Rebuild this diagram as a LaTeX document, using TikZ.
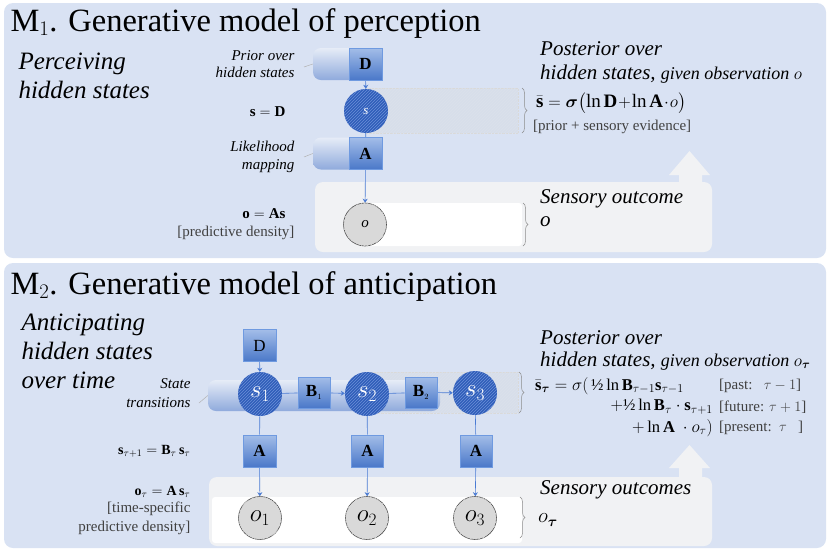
\documentclass[tikz,border=0pt]{standalone}
\usepackage{amsmath}
\usepackage{fontspec}
\setmainfont{Liberation Serif}
\usetikzlibrary{patterns,decorations.pathreplacing,arrows.meta,calc}
\newcommand\fsz[2]{\fontsize{#1}{#2}\selectfont}
\definecolor{panelbg}{HTML}{D9E2F3}
\definecolor{pilltop}{HTML}{E6ECF7}
\definecolor{pillbot}{HTML}{8FAADC}
\definecolor{sqtop}{HTML}{A3BDE8}
\definecolor{sqbot}{HTML}{4A78C9}
\definecolor{sqborder}{HTML}{6F9AE0}
\definecolor{sfill}{HTML}{2F5DB9}
\definecolor{shatch}{HTML}{6C90D8}
\definecolor{ofill}{HTML}{D9D9D9}
\definecolor{outgrey}{HTML}{F1F2F4}
\definecolor{linkblue}{HTML}{4A7BD3}
\definecolor{bracegrey}{HTML}{8C8C8C}
\definecolor{txtgrey}{HTML}{404040}
\definecolor{hatchbg}{HTML}{D7DEEA}
\pgfdeclarelayer{bottom}
\pgfdeclarelayer{mid}
\pgfsetlayers{bottom,mid,main}
\begin{document}
\begin{tikzpicture}[x=1pt,y=-1pt,
  panel/.style={fill=panelbg, rounded corners=9pt},
  outbox/.style={fill=outgrey, rounded corners=8pt},
  whitebox/.style={fill=white, rounded corners=3pt},
  hatchzone/.style={fill=hatchbg, draw=gray!30, densely dotted, line width=0.4pt, postaction={pattern=north east lines, pattern color=gray!14}},
  pill/.style={rounded corners=8pt, top color=pilltop, bottom color=pillbot, minimum width=69pt, minimum height=32pt, inner sep=0pt},
  sqbox/.style={draw=sqborder, line width=0.7pt, top color=sqtop, bottom color=sqbot, minimum width=33pt, minimum height=32pt, inner sep=0pt, font=\bfseries\fsz{17}{17}},
  state/.style={circle, minimum size=44pt, inner sep=0pt, fill=sfill, postaction={pattern=north east lines, pattern color=shatch}, text=white},
  obs/.style={circle, minimum size=43pt, inner sep=0pt, draw=black!70, line width=0.6pt, fill=ofill, postaction={pattern=north east lines, pattern color=gray!30}},
  link/.style={draw=linkblue, line width=0.6pt},
  arr/.style={link, -{Stealth[length=4pt,width=5pt]}},
  brc/.style={draw=bracegrey, line width=0.5pt, decorate, decoration={brace, amplitude=5pt}},
  tail/.style={draw=gray!60, line width=0.5pt},
  bigup/.style={fill=outgrey},
  rtxt/.style={anchor=west, inner sep=0pt}
]
\useasboundingbox (0,0) rectangle (828,550);

\begin{pgfonlayer}{bottom}
% panels
\fill[panel] (4,3) rectangle (826,258);
\fill[panel] (4,263) rectangle (826,548);
% panel 1 outcome area
\fill[outbox] (315,182) rectangle (712,252);
\fill[bigup] (679,186) -- (679,175) -- (669,175) -- (689.5,151) -- (710,175) -- (702,175) -- (702,186) -- cycle;
\fill[whitebox] (365,203) rectangle (522,246);
\filldraw[hatchzone] (366,88) rectangle (518,133);
% panel 2 outcome area
\fill[outbox] (209,477) rectangle (712,546);
\fill[bigup] (679,480) -- (679,468) -- (669,468) -- (689.5,445) -- (710,468) -- (702,468) -- (702,480) -- cycle;
\fill[whitebox] (212,497) rectangle (522,543);
\filldraw[hatchzone] (367,372) rectangle (518,413);
% pills
\node[pill] (Dpill) at (347.5,64) {};
\node[pill] (Apill) at (347.5,153.5) {};
\node[pill, minimum width=232pt, minimum height=31pt] (Bpill) at (324,395.5) {};
\end{pgfonlayer}

% ---------- Panel 1 ----------
\node[anchor=base west, font=\fsz{32.5}{32.5}] (title1) at (7,31) {M$_1$. Generative model of perception};
\node[anchor=west, align=left, font=\itshape\fsz{25}{29}] (sub1) at (15,76) {Perceiving\\hidden states};
\node[anchor=east, align=right, font=\itshape\fsz{15}{17}] (lblD) at (298,64.5) {Prior over\\hidden states};
\node[anchor=east, font=\bfseries\fsz{15}{15}] (eqs) at (289,112) {$\mathbf{s}=\mathbf{D}$};
\node[anchor=east, align=right, font=\itshape\fsz{15}{18}] (lblA) at (298,156.5) {Likelihood\\mapping};
\node[anchor=east, font=\fsz{15}{15}] (eqo) at (289,214) {$\mathbf{o}=\mathbf{As}$};
\node[anchor=east, font=\fsz{15}{15}, text=txtgrey] (pd1) at (298,233) {[predictive density]};

\node[sqbox] (D1) at (365.5,64) {D};
\node[sqbox] (A1) at (365.5,153.5) {A};
\node[state, font=\itshape\fsz{13}{13}] (s) at (366,111) {s};
\node[obs, font=\itshape\fsz{15}{15}] (o) at (365,224.5) {o};

\draw[tail] (304,67) -- (Dpill.west);
\draw[tail] (304,157) -- (Apill.west);

\begin{pgfonlayer}{mid}
\draw[arr] (D1) -- (s);
\draw[link] (s) -- (A1);
\draw[arr] (A1) -- (o);
\end{pgfonlayer}

\draw[brc] (522,88) -- (522,133);
\draw[brc] (523,203) -- (523,246);

\node[rtxt, font=\itshape\fsz{21}{21}] (post1) at (540,49) {Posterior over};
\node[rtxt, font=\itshape\fsz{21}{21}] (post1b) at (540,74) {hidden states, {\fsz{18}{18}given observation $o$}};
\node[rtxt, font=\fsz{19}{19}] (form1) at (536,103) {$\bar{\mathbf{s}}=\boldsymbol{\sigma}\bigl(\ln\mathbf{D}\!+\!\ln\mathbf{A}\!\cdot\! o\bigr)$};
\node[rtxt, font=\fsz{15}{15}, text=txtgrey] (ev1) at (533,127) {[prior + sensory evidence]};
\node[rtxt, font=\itshape\fsz{21}{21}] (so1) at (540,199) {Sensory outcome};
\node[rtxt, font=\itshape\fsz{21}{21}] (so1b) at (540,222) {o};

% ---------- Panel 2 ----------
\node[anchor=base west, font=\fsz{32.5}{32.5}] (title2) at (7,294) {M$_2$. Generative model of anticipation};
\node[anchor=west, align=left, font=\itshape\fsz{25}{29}] (sub2) at (18,351) {Anticipating\\hidden states\\over time};
\node[anchor=east, align=right, font=\itshape\fsz{15}{19}] (lblB) at (194,393.5) {State\\transitions};
\node[anchor=east, font=\fsz{14}{14}] (eqst) at (194,451) {$\mathbf{s}_{\tau+1}=\mathbf{B}_{\tau}\,\mathbf{s}_{\tau}$};
\node[anchor=east, font=\fsz{14}{14}] (eqot) at (194,492) {$\mathbf{o}_{\tau}=\mathbf{A}\,\mathbf{s}_{\tau}$};
\node[anchor=east, align=right, font=\fsz{15}{19}, text=txtgrey] (pd2) at (194,518.5) {[time-specific\\predictive density]};

\node[sqbox, font=\fsz{17}{17}] (D2) at (259.5,345.5) {D};
\node[sqbox, minimum width=32pt, minimum height=31pt] (B1) at (314,392.5) {B$_{\scriptscriptstyle 1}$};
\node[sqbox, minimum width=32pt, minimum height=31pt] (B2) at (421,392.5) {B$_{\scriptscriptstyle 2}$};
\node[state, font=\fsz{23}{23}] (s1) at (260,394) {$s_1$};
\node[state, font=\fsz{23}{23}] (s2) at (367,394) {$s_2$};
\node[state, font=\fsz{23}{23}] (s3) at (475,393) {$s_3$};
\node[sqbox] (A21) at (259.5,451) {A};
\node[sqbox, minimum width=32pt] (A22) at (367.5,451) {A};
\node[sqbox, minimum width=32pt] (A23) at (476,451) {A};
\node[obs, font=\fsz{23}{23}] (o1) at (260,518) {$o_1$};
\node[obs, font=\fsz{23}{23}] (o2) at (367,518) {$o_2$};
\node[obs, font=\fsz{23}{23}] (o3) at (475,518) {$o_3$};

\draw[tail] (199,403) -- (Bpill.west);

\begin{pgfonlayer}{mid}
\draw[arr] (D2) -- (s1);
\draw[link] (s1) -- (B1);
\draw[arr] (B1) -- (s2);
\draw[link] (s2) -- (B2);
\draw[arr] (B2) -- (s3);
\draw[link] (s1) -- (A21);
\draw[link] (s2) -- (A22);
\draw[link] (s3) -- (A23);
\draw[arr] (A21) -- (o1);
\draw[arr] (A22) -- (o2);
\draw[arr] (A23) -- (o3);
\end{pgfonlayer}

\draw[brc] (519,372) -- (519,413);
\draw[brc] (520,497) -- (520,538);

\node[rtxt, font=\itshape\fsz{21}{21}] (post2) at (540,338) {Posterior over};
\node[rtxt, font=\itshape\fsz{21}{21}] (post2b) at (540,361) {hidden states, {\fsz{18}{18}given observation $o_{\boldsymbol{\tau}}$}};
\node[rtxt, font=\fsz{16.5}{16.5}] (f2a) at (535,386) {$\bar{\mathbf{s}}_{\boldsymbol{\tau}}=\sigma($\,½\,$\ln\mathbf{B}_{\tau-1}\mathbf{s}_{\tau-1}$};
\node[anchor=east, inner sep=0pt, font=\fsz{16.5}{16.5}] (f2b) at (713,407) {$+$½\,$\ln\mathbf{B}_{\tau}\cdot\mathbf{s}_{\tau+1}$};
\node[anchor=east, inner sep=0pt, font=\fsz{16.5}{16.5}] (f2c) at (713,428) {$+\ln\mathbf{A}\ \cdot o_{\tau})$};
\node[rtxt, font=\fsz{15}{15}, text=txtgrey] (g2a) at (719,386) {[past:\ \ \ $\tau-1$]};
\node[rtxt, font=\fsz{15}{15}, text=txtgrey] (g2b) at (719,407) {[future: $\tau+1$]};
\node[rtxt, font=\fsz{15}{15}, text=txtgrey] (g2c) at (719,428) {[present:\ \ $\tau$\ \ \ ]};
\node[rtxt, font=\itshape\fsz{21}{21}] (so2) at (540,490) {Sensory outcomes};
\node[rtxt, font=\fsz{21}{21}] (so2b) at (538,520) {$o_{\boldsymbol{\tau}}$};
\end{tikzpicture}
\end{document}
